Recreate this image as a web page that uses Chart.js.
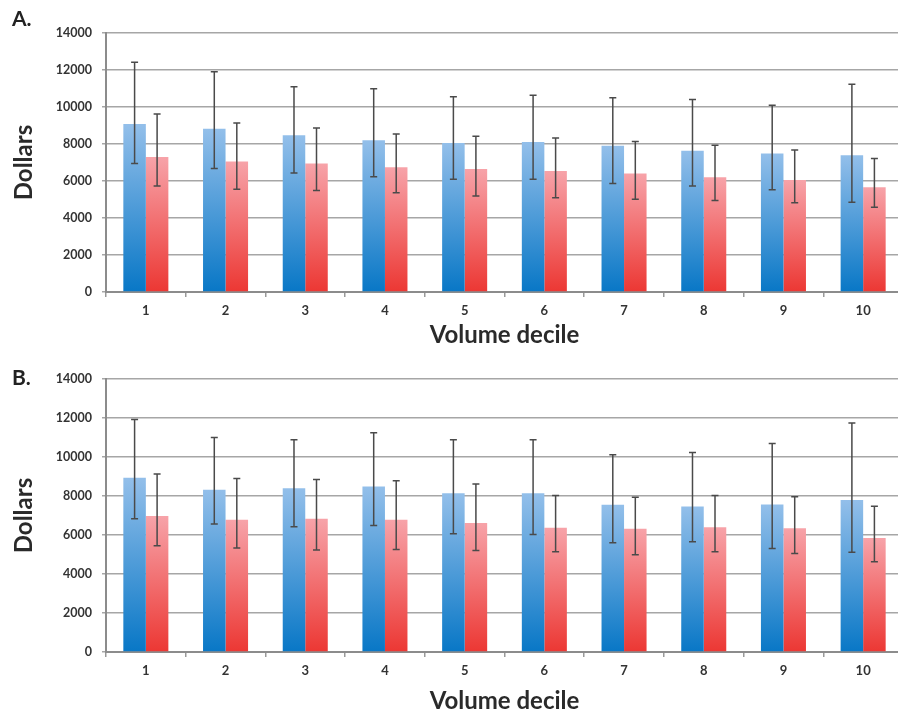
<!DOCTYPE html>
<html lang="en">
<head>
<meta charset="UTF-8">
<title>Dollars by volume decile</title>
<script src="https://cdn.jsdelivr.net/npm/chart.js"></script>
<style>
    html, body { margin: 0; padding: 0; overflow: hidden; background: #fff; }
    body { width: 898px; height: 718px; position: relative; }
    canvas { position: absolute; left: 0; }
    .tag { position: absolute; left: 12px; font: bold 21px Lato, sans-serif; color: #222; }
</style>
</head>
<body>
<canvas id="chartA" width="903" height="358" style="top:0"></canvas>
<canvas id="chartB" width="903" height="360" style="top:358px"></canvas>
<div class="tag" style="top:5px">A.</div>
<div class="tag" style="top:364px">B.</div>

<script>
const deciles = ['1', '2', '3', '4', '5', '6', '7', '8', '9', '10'];
const yTicks = [0, 2000, 4000, 6000, 8000, 10000, 12000, 14000];

// panel A
const blueA   = [9080, 8830, 8470, 8200, 8050, 8110, 7910, 7640, 7480, 7390];
const blueAHi = [12420, 11910, 11100, 10990, 10560, 10630, 10500, 10410, 10090, 11230];
const blueALo = [6940, 6680, 6430, 6230, 6090, 6090, 5870, 5730, 5530, 4850];
const redA    = [7300, 7060, 6940, 6740, 6650, 6540, 6410, 6200, 6050, 5660];
const redAHi  = [9620, 9140, 8860, 8540, 8420, 8320, 8130, 7930, 7680, 7210];
const redALo  = [5730, 5550, 5480, 5370, 5190, 5100, 5010, 4940, 4830, 4580];

// panel B
const blueB   = [8930, 8320, 8400, 8490, 8140, 8140, 7550, 7460, 7560, 7800];
const blueBHi = [11920, 11000, 10880, 11250, 10880, 10890, 10110, 10230, 10690, 11750];
const blueBLo = [6830, 6570, 6420, 6490, 6060, 6030, 5600, 5650, 5310, 5110];
const redB    = [6980, 6780, 6830, 6780, 6620, 6370, 6320, 6400, 6350, 5840];
const redBHi  = [9130, 8900, 8840, 8780, 8610, 8020, 7940, 8020, 7960, 7480];
const redBLo  = [5450, 5330, 5230, 5260, 5210, 5140, 4990, 5140, 5050, 4630];

// each bar fades from light at its top to dark at the baseline
function barGradient(light, dark) {
    return (ctx) => {
        const chart = ctx.chart;
        const area = chart.chartArea;
        if (!area || ctx.raw == null) return dark;
        const top = chart.scales.y.getPixelForValue(ctx.raw);
        const g = chart.ctx.createLinearGradient(0, top, 0, area.bottom);
        g.addColorStop(0, light);
        g.addColorStop(1, dark);
        return g;
    };
}

const errorBars = {
    id: 'errorBars',
    afterDatasetsDraw(chart) {
        const c = chart.ctx;
        const y = chart.scales.y;
        c.save();
        c.strokeStyle = '#4a4a4a';
        c.lineWidth = 1.5;
        chart.data.datasets.forEach((ds, i) => {
            chart.getDatasetMeta(i).data.forEach((bar, j) => {
                const x = bar.x;
                const yh = y.getPixelForValue(ds.errHi[j]);
                const yl = y.getPixelForValue(ds.errLo[j]);
                c.beginPath();
                c.moveTo(x, yh); c.lineTo(x, yl);
                c.moveTo(x - 3.5, yh); c.lineTo(x + 3.5, yh);
                c.moveTo(x - 3.5, yl); c.lineTo(x + 3.5, yl);
                c.stroke();
            });
        });
        c.restore();
    }
};

function makeChart(id, blue, blueHi, blueLo, red, redHi, redLo, topPad, titlePad) {
    const ctx = document.getElementById(id).getContext('2d');
    return new Chart(ctx, {
        type: 'bar',
        data: {
            labels: deciles,
            datasets: [
                { data: blue, errHi: blueHi, errLo: blueLo, backgroundColor: barGradient('#93bfea', '#0877c6') },
                { data: red, errHi: redHi, errLo: redLo, backgroundColor: barGradient('#f7a3a9', '#ec3733') }
            ]
        },
        options: {
            responsive: false,
            animation: false,
            layout: { padding: { top: topPad, left: 0, right: 0, bottom: 0 } },
            datasets: { bar: { categoryPercentage: 0.565, barPercentage: 1.0, borderWidth: 0 } },
            plugins: { legend: { display: false }, tooltip: { enabled: false } },
            scales: {
                x: {
                    grid: { offset: true, drawOnChartArea: false, tickLength: 5, color: '#999', lineWidth: 1.5 },
                    border: { color: '#8c8c8c', width: 2 },
                    ticks: { font: { family: 'Lato', weight: 'bold', size: 13 }, color: '#333', padding: 6 },
                    title: {
                        display: true, text: 'Volume decile', color: '#2a2a2a',
                        font: { family: 'Lato', weight: 'bold', size: 24 },
                        padding: { top: 4, bottom: titlePad }
                    },
                    afterFit: (s) => { s.height = 66; }
                },
                y: {
                    min: 0, max: 14000,
                    afterBuildTicks: (s) => { s.ticks = yTicks.map(v => ({ value: v })); },
                    grid: { color: '#a6a6a6', lineWidth: 1.5, tickLength: 4 },
                    border: { color: '#8c8c8c', width: 2 },
                    ticks: {
                        font: { family: 'Lato', weight: 'bold', size: 12.5 }, color: '#333', padding: 10,
                        callback: (v) => String(v)
                    },
                    title: {
                        display: true, text: 'Dollars', color: '#2a2a2a',
                        font: { family: 'Lato', weight: 'bold', size: 24 },
                        padding: { top: 10, bottom: 0 }
                    },
                    afterFit: (s) => { s.width = 106; }
                }
            }
        },
        plugins: [errorBars]
    });
}

makeChart('chartA', blueA, blueAHi, blueALo, redA, redAHi, redALo, 33, 8);
makeChart('chartB', blueB, blueBHi, blueBLo, redB, redBHi, redBLo, 21, 2);
</script>
</body>
</html>
